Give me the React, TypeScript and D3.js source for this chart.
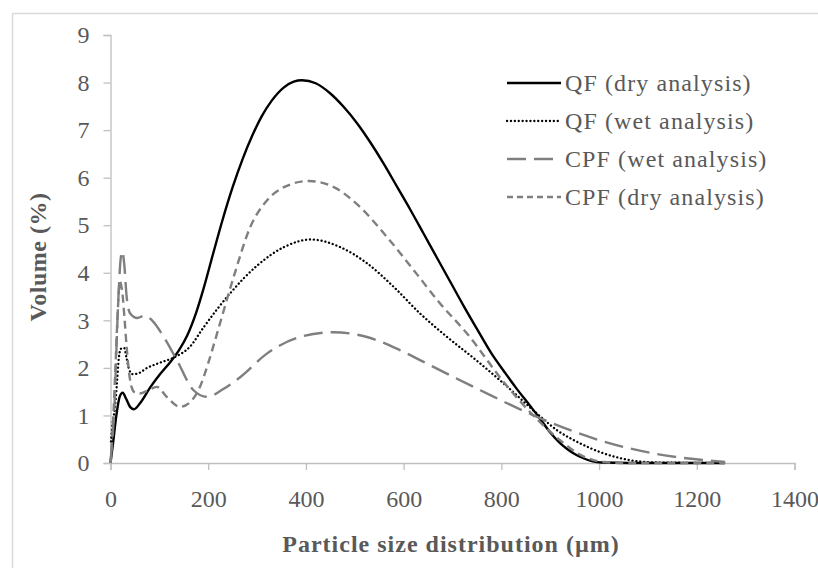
import React, { useEffect, useRef } from "react";
import * as d3 from "d3";

const W = 818;
const H = 568;

const xTicks = [0, 200, 400, 600, 800, 1000, 1200, 1400];
const yTicks = [0, 1, 2, 3, 4, 5, 6, 7, 8, 9];

const qfDry: [number, number][] = [
  [0, 0], [5, 0.4], [12, 1.0], [19, 1.4], [25, 1.48], [32, 1.35], [40, 1.18], [48, 1.13], [60, 1.25],
  [82, 1.6], [100, 1.85], [123, 2.13], [140, 2.37], [157, 2.68], [175, 3.15], [190, 3.65], [210, 4.4],
  [229, 5.1], [250, 5.8], [270, 6.38], [290, 6.88], [310, 7.3], [330, 7.62], [355, 7.9], [375, 8.02],
  [392, 8.05], [420, 7.985], [450, 7.77], [478, 7.48], [505, 7.14], [532, 6.74], [560, 6.28], [587, 5.8],
  [614, 5.32], [641, 4.82], [669, 4.3], [696, 3.8], [723, 3.3], [750, 2.82], [780, 2.3], [806, 1.92],
  [830, 1.58], [859, 1.2], [880, 0.92], [900, 0.64], [918, 0.44], [934, 0.3], [950, 0.19], [968, 0.1],
  [985, 0.04], [1005, 0.01], [1060, 0.0], [1258, 0.0],
];

const qfWet: [number, number][] = [
  [1, 0.45], [5, 0.9], [9, 1.15], [13, 1.65], [17, 2.2], [21, 2.4], [28, 2.42], [33, 2.2], [38, 1.97],
  [45, 1.87], [55, 1.88], [75, 2.0], [96, 2.09], [130, 2.22], [163, 2.45], [191, 2.86], [245, 3.57],
  [300, 4.15], [355, 4.54], [410, 4.7], [470, 4.54], [525, 4.2], [580, 3.7], [634, 3.14], [689, 2.65],
  [744, 2.2], [805, 1.67], [873, 1.04], [914, 0.69], [962, 0.41], [1010, 0.2], [1058, 0.07], [1120, 0.01],
  [1258, 0.0],
];

const cpfWet: [number, number][] = [
  [0, 0], [8, 1.2], [15, 3.2], [20, 4.2], [24, 4.45], [28, 4.2], [33, 3.5], [40, 3.15], [55, 3.05],
  [70, 3.1], [85, 3.0], [109, 2.65], [136, 2.16], [170, 1.53], [198, 1.39], [230, 1.55], [266, 1.81],
  [320, 2.3], [388, 2.65], [456, 2.75], [525, 2.65], [593, 2.37], [661, 2.02], [757, 1.53], [873, 0.97],
  [1010, 0.45], [1112, 0.2], [1215, 0.06], [1258, 0.02],
];

const cpfDry: [number, number][] = [
  [0, 0], [5, 0.8], [10, 2.0], [15, 3.2], [19, 3.81], [24, 3.6], [29, 3.0], [33, 2.44], [38, 1.9],
  [43, 1.6], [50, 1.48], [60, 1.46], [75, 1.52], [95, 1.6], [115, 1.39], [142, 1.18], [165, 1.3],
  [183, 1.6], [200, 2.1], [218, 2.72], [252, 3.91], [286, 4.96], [321, 5.53], [355, 5.8], [406, 5.93],
  [457, 5.8], [511, 5.38], [566, 4.75], [621, 4.05], [675, 3.35], [730, 2.72], [805, 1.7], [873, 0.92],
  [920, 0.48], [962, 0.17], [1010, 0.02], [1060, 0.0], [1258, 0.0],
];

const seriesNames = ["QF (dry analysis)", "QF (wet analysis)", "CPF (wet analysis)", "CPF (dry analysis)"];

export default function App() {
  const ref = useRef<SVGSVGElement>(null);

  useEffect(() => {
    const svg = d3.select(ref.current);
    svg.selectAll("*").remove();

    const x = d3.scaleLinear().domain([0, 1400]).range([110.5, 794.5]);
    const y = d3.scaleLinear().domain([0, 9]).range([463, 35]);

    const font = "'Liberation Serif', 'DejaVu Serif', serif";
    const axisColor = "#bfbfbf";
    const textColor = "#595959";

    svg.append("rect")
      .attr("x", 12.5).attr("y", 13.5)
      .attr("width", W + 10).attr("height", H + 10)
      .attr("fill", "white").attr("stroke", "#d9d9d9").attr("stroke-width", 1.5);

    const yAxis = svg.append("g").attr("transform", `translate(110.5,0)`)
      .call(d3.axisLeft(y).tickValues(yTicks).tickSize(7).tickPadding(14).tickFormat(d3.format("d")));
    yAxis.select(".domain").attr("stroke", axisColor).attr("stroke-width", 1.3);
    yAxis.selectAll(".tick line").attr("stroke", axisColor).attr("stroke-width", 1.3);
    yAxis.selectAll(".tick text").attr("fill", textColor).attr("font-family", font).attr("font-size", 24);

    const xAxis = svg.append("g").attr("transform", `translate(0,463)`)
      .call(d3.axisBottom(x).tickValues(xTicks).tickSize(7).tickPadding(20).tickFormat(d3.format("d")));
    xAxis.select(".domain").attr("stroke", axisColor).attr("stroke-width", 1.3);
    xAxis.selectAll(".tick line").attr("stroke", axisColor).attr("stroke-width", 1.3);
    xAxis.selectAll(".tick text").attr("fill", textColor).attr("font-family", font).attr("font-size", 24);

    const line = d3.line<[number, number]>()
      .x((d) => x(d[0]))
      .y((d) => y(d[1]))
      .curve(d3.curveMonotoneX);

    const styles = [
      { data: qfDry, color: "#000000", width: 2.4, dash: null, cap: "butt" },
      { data: qfWet, color: "#000000", width: 2.3, dash: "0.1 3.8", cap: "round" },
      { data: cpfWet, color: "#7f7f7f", width: 2.4, dash: "19 8", cap: "butt" },
      { data: cpfDry, color: "#7f7f7f", width: 2.4, dash: "8 5", cap: "butt" },
    ];

    const g = svg.append("g");
    styles.forEach((s) => {
      const p = g.append("path")
        .attr("d", line(s.data))
        .attr("fill", "none")
        .attr("stroke", s.color)
        .attr("stroke-width", s.width)
        .attr("stroke-linecap", s.cap);
      if (s.dash) p.attr("stroke-dasharray", s.dash);
    });

    const legY = [83, 121, 159, 197];
    const lg = svg.append("g");
    styles.forEach((s, i) => {
      const l = lg.append("line")
        .attr("x1", 507).attr("x2", 561)
        .attr("y1", legY[i]).attr("y2", legY[i])
        .attr("stroke", s.color).attr("stroke-width", s.width)
        .attr("stroke-linecap", s.cap);
      if (s.dash) l.attr("stroke-dasharray", i === 2 ? "19 8" : i === 3 ? "6 4" : s.dash);
      lg.append("text")
        .attr("x", 565).attr("y", legY[i]).attr("dy", "0.33em")
        .attr("fill", textColor).attr("font-family", font).attr("font-size", 24)
        .attr("letter-spacing", 1.1)
        .text(seriesNames[i]);
    });

    svg.append("text")
      .attr("x", 451).attr("y", 552)
      .attr("text-anchor", "middle")
      .attr("fill", textColor).attr("font-family", font).attr("font-size", 24).attr("font-weight", "bold")
      .attr("letter-spacing", 1.0)
      .text("Particle size distribution (µm)");

    svg.append("text")
      .attr("transform", "translate(46,257) rotate(-90)")
      .attr("text-anchor", "middle")
      .attr("fill", textColor).attr("font-family", font).attr("font-size", 24).attr("font-weight", "bold")
      .attr("letter-spacing", 0.5)
      .text("Volume (%)");
  }, []);

  return (
    <svg
      ref={ref}
      width={W}
      height={H}
      style={{ position: "absolute", left: 0, top: 0, background: "white" }}
    />
  );
}
